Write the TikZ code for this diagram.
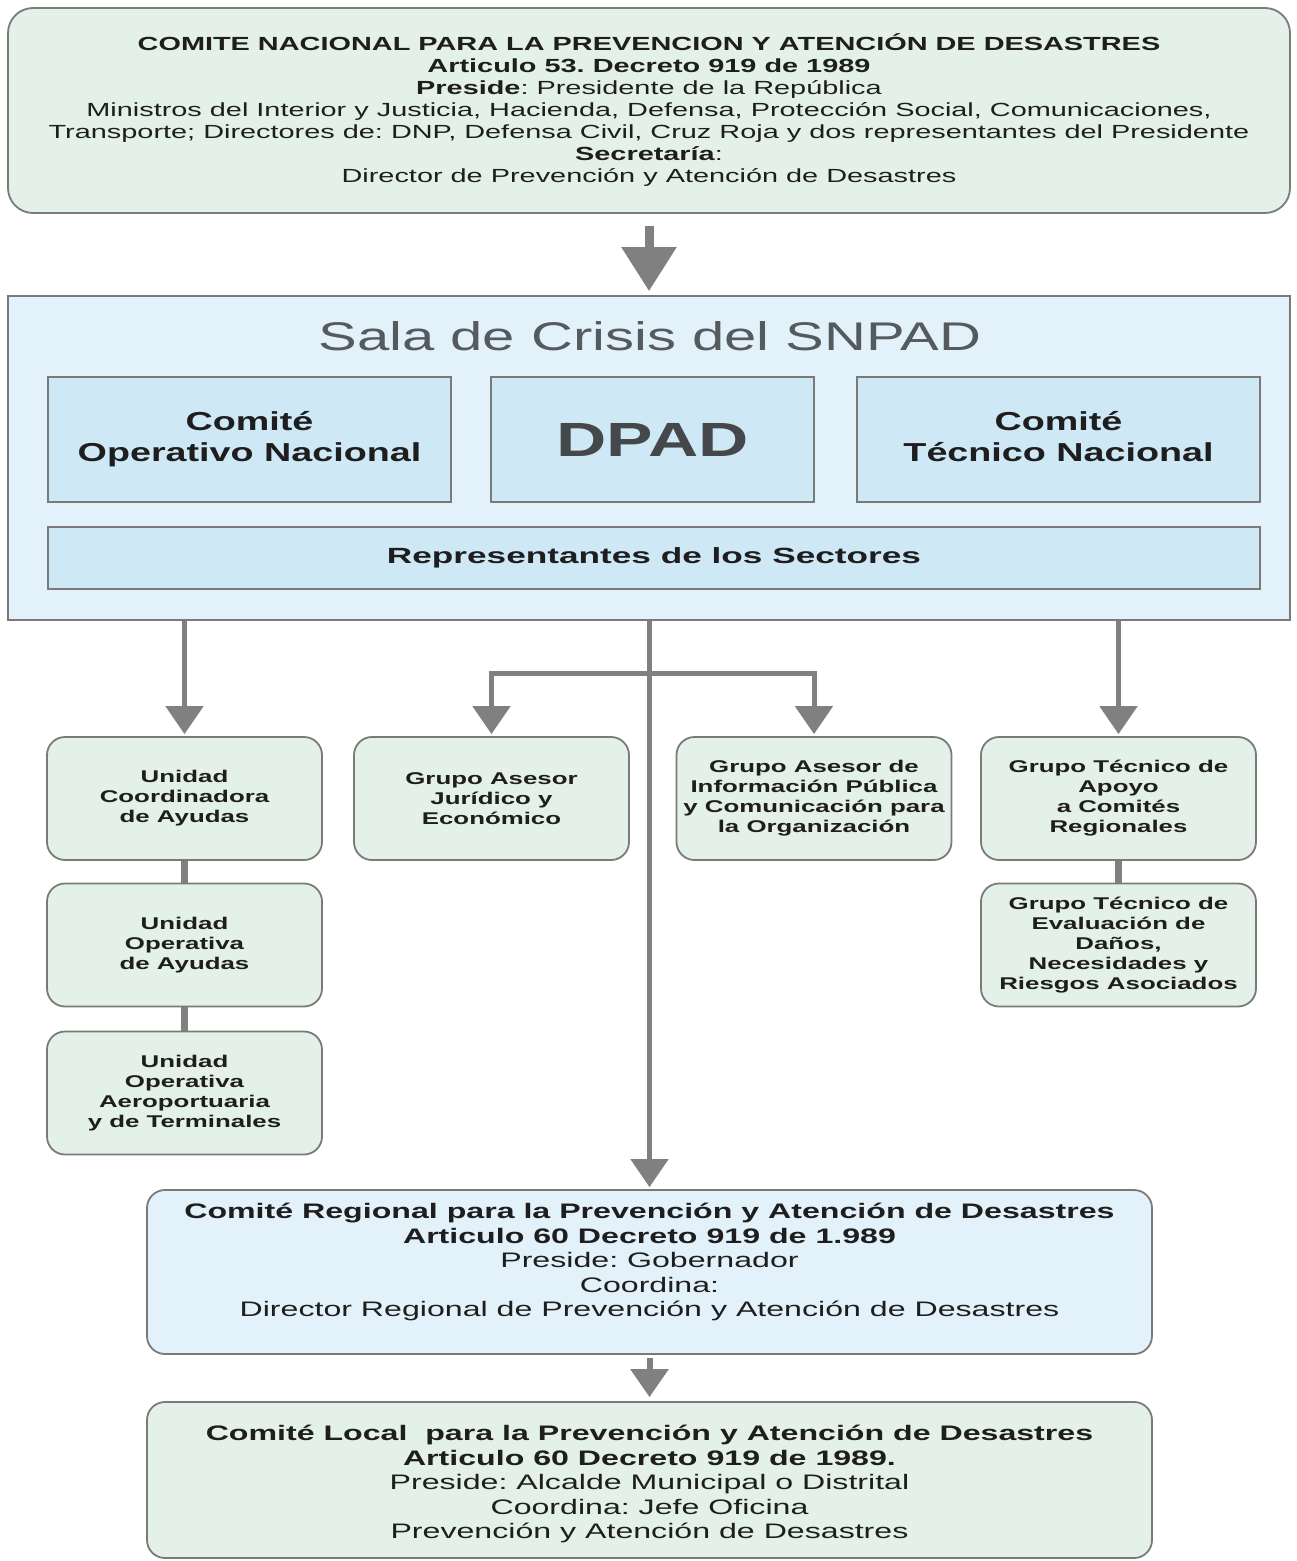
\documentclass[tikz,border=0pt]{standalone}
\usepackage{fontspec}
\setmainfont{Liberation Sans}
\newfontfamily\fTop[FakeStretch=1.52]{Liberation Sans}
\newfontfamily\fSala[FakeStretch=1.45]{Liberation Sans}
\newfontfamily\fRep[FakeStretch=1.6]{Liberation Sans}
\newfontfamily\fSmall[FakeStretch=1.52]{Liberation Sans}
\newfontfamily\fBot[FakeStretch=1.53]{Liberation Sans}
\usetikzlibrary{arrows.meta}
\definecolor{greenfill}{HTML}{E3F1E9}
\definecolor{bluefill}{HTML}{E3F1FA}
\definecolor{innerblue}{HTML}{CFE8F6}
\definecolor{bordergray}{HTML}{7A7A7A}
\definecolor{arrowgray}{HTML}{808080}
\definecolor{textdark}{HTML}{1E1E1E}
\definecolor{titlegray}{HTML}{555A5E}
\frenchspacing
\begin{document}
\frenchspacing
\begin{tikzpicture}[x=1pt,y=-1pt,
  gbox/.style={draw=bordergray, line width=1.8pt, fill=greenfill, rounded corners=18pt, align=center, inner sep=0pt, text=textdark},
  bbox/.style={draw=bordergray, line width=1.8pt, fill=innerblue, align=center, inner sep=0pt, text=textdark},
  smallbox/.style={gbox, minimum width=275pt, minimum height=123pt, font=\fSmall\bfseries\fontsize{17}{20}\selectfont},
  plaintext/.style={inner sep=0pt, align=center, text=textdark},
  arr/.style={draw=arrowgray, line width=5pt, -{Triangle[width=37pt,length=28pt]}},
  bigarr/.style={draw=arrowgray, line width=9pt, -{Triangle[width=53pt,length=44pt]}},
  link/.style={draw=arrowgray, line width=7pt}
]
\useasboundingbox (0,0) rectangle (1296,1561);
\fill[white] (0,0) rectangle (1296,1561);

% top committee
\node[gbox, rounded corners=25pt, minimum width=1282pt, minimum height=205pt,
      font=\fTop\frenchspacing\fontsize{19}{22}\selectfont] (top) at (649,110.5)
{{\bfseries COMITE NACIONAL PARA LA PREVENCION Y ATENCIÓN DE DESASTRES}\\
 {\bfseries Articulo 53. Decreto 919 de 1989}\\
 {\bfseries Preside}: Presidente de la República\\
 Ministros del Interior y Justicia, Hacienda, Defensa, Protección Social, Comunicaciones,\\
 Transporte; Directores de: DNP, Defensa Civil, Cruz Roja y dos representantes del Presidente\\
 {\bfseries Secretaría}:\\
 Director de Prevención y Atención de Desastres};

% sala de crisis
\node[draw=bordergray, line width=1.8pt, fill=bluefill, minimum width=1282pt, minimum height=324pt, inner sep=0pt] (sala) at (649,458) {};
\node[text=titlegray, font=\fSala\fontsize{40}{44}\selectfont, inner sep=0pt] (salatitle) at (650,336) {Sala de Crisis del SNPAD};
\node[bbox, minimum width=403pt, minimum height=125pt, font=\fSala\bfseries\fontsize{26}{31}\selectfont] (con) at (249.5,439.5) {Comité\\Operativo Nacional};
\node[bbox, minimum width=323pt, minimum height=125pt, font=\fSala\bfseries\fontsize{48}{52}\selectfont, text=titlegray!80!black] (dpad) at (652.5,439.5) {DPAD};
\node[bbox, minimum width=403pt, minimum height=125pt, font=\fSala\bfseries\fontsize{26}{31}\selectfont] (ctn) at (1058.5,439.5) {Comité\\Técnico Nacional\vphantom{p}};
\node[bbox, minimum width=1212pt, minimum height=62pt, font=\fRep\bfseries\fontsize{22}{24}\selectfont] (rep) at (654,558) {Representantes de los Sectores};

% groups
\node[smallbox] (u1) at (184.5,798.5) {Unidad\\Coordinadora\\de Ayudas};
\node[smallbox] (u2) at (184.5,945) {Unidad\\Operativa\\de Ayudas};
\node[smallbox] (u3) at (184.5,1093) {Unidad\\Operativa\\Aeroportuaria\\y de Terminales};
\node[smallbox] (g1) at (491.5,798.5) {Grupo Asesor\\Jurídico y\\Económico};
\node[smallbox] (g2) at (814,798.5) {Grupo Asesor de\\Información Pública\\y Comunicación para\\la Organización};
\node[smallbox] (g3) at (1118.5,798.5) {Grupo Técnico de\\Apoyo\\a Comités\\Regionales};
\node[smallbox] (g4) at (1118.5,945) {Grupo Técnico de\\Evaluación de\\Daños,\\Necesidades y\\Riesgos Asociados};

% regional and local
\node[draw=bordergray, line width=1.8pt, fill=bluefill, rounded corners=18pt, minimum width=1005pt, minimum height=164pt, inner sep=0pt] (reg) at (649.5,1272) {};
\node[plaintext, font=\fBot\frenchspacing\fontsize{21}{24.5}\selectfont] (regtext) at (649.5,1262)
{{\bfseries Comité Regional para la Prevención y Atención de Desastres}\\
 {\bfseries Articulo 60 Decreto 919 de 1.989}\\
 Preside: Gobernador\\
 Coordina:\\
 Director Regional de Prevención y Atención de Desastres};
\node[draw=bordergray, line width=1.8pt, fill=greenfill, rounded corners=18pt, minimum width=1005pt, minimum height=156pt, inner sep=0pt] (loc) at (649.5,1480) {};
\node[plaintext, font=\fBot\frenchspacing\fontsize{21}{24.5}\selectfont] (loctext) at (649.5,1484)
{{\bfseries Comité Local\ \ para la Prevención y Atención de Desastres}\\
 {\bfseries Articulo 60 Decreto 919 de 1989.}\\
 Preside: Alcalde Municipal o Distrital\\
 Coordina: Jefe Oficina\\
 Prevención y Atención de Desastres};

% connectors
\draw[bigarr, shorten <=12pt, shorten >=4pt] (top.south) -- (sala.north);
\draw[arr, shorten >=2pt] (u1.north |- sala.south) -- (u1.north);
\draw[arr, shorten >=2pt] (sala.south -| reg.north) -- (reg.north);
\coordinate (br) at (649.5,673);
\draw[arr, shorten >=2pt] (br) -| (g1.north);
\draw[arr, shorten >=2pt] (br) -| (g2.north);
\draw[arr, shorten >=2pt] (g3.north |- sala.south) -- (g3.north);
\draw[link] (u1.south) -- (u2.north);
\draw[link] (u2.south) -- (u3.north);
\draw[link] (g3.south) -- (g4.north);
\draw[arr, line width=6pt, shorten <=3pt, shorten >=4pt] (reg.south) -- (loc.north);
\end{tikzpicture}
\end{document}
